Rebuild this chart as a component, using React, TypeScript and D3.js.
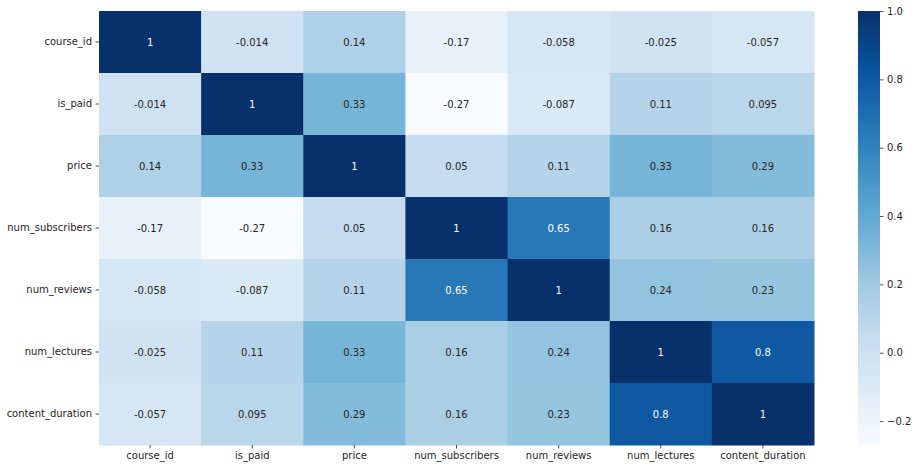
import React, { useEffect, useRef } from 'react';
import * as d3 from 'd3';

const labels = ['course_id', 'is_paid', 'price', 'num_subscribers', 'num_reviews', 'num_lectures', 'content_duration'];

const courseId = [1, -0.014, 0.14, -0.17, -0.058, -0.025, -0.057];
const isPaid = [-0.014, 1, 0.33, -0.27, -0.087, 0.11, 0.095];
const price = [0.14, 0.33, 1, 0.05, 0.11, 0.33, 0.29];
const numSubscribers = [-0.17, -0.27, 0.05, 1, 0.65, 0.16, 0.16];
const numReviews = [-0.058, -0.087, 0.11, 0.65, 1, 0.24, 0.23];
const numLectures = [-0.025, 0.11, 0.33, 0.16, 0.24, 1, 0.8];
const contentDuration = [-0.057, 0.095, 0.29, 0.16, 0.23, 0.8, 1];

const rows = [courseId, isPaid, price, numSubscribers, numReviews, numLectures, contentDuration];

const cbarTicks = [1.0, 0.8, 0.6, 0.4, 0.2, 0.0, -0.2];

// matplotlib "Blues" stops
const blues = ['#f7fbff', '#deebf7', '#c6dbef', '#9ecae1', '#6baed6', '#4292c6', '#2171b5', '#08519c', '#08306b'];

const App = () => {
  const svgRef = useRef(null);

  useEffect(() => {
    document.body.style.margin = '0';
    const width = 918, height = 471;
    const left = 99, top = 11, right = 814, bottom = 445;
    const font = '"DejaVu Sans", sans-serif';

    const svg = d3.select(svgRef.current);
    svg.selectAll('*').remove();
    svg.attr('width', width).attr('height', height);
    svg.append('rect').attr('width', width).attr('height', height).attr('fill', '#fff');

    const vmin = d3.min(rows.flat());
    const vmax = 1;
    const t = d3.scaleLinear().domain([vmin, vmax]).range([0, 1]);
    const ramp = d3.scaleLinear<string>()
      .domain(blues.map((_, i) => i / (blues.length - 1)))
      .range(blues)
      .interpolate(d3.interpolateRgb);
    const color = v => ramp(t(v));

    const x = d3.scaleBand().domain(labels).range([left, right]);
    const y = d3.scaleBand().domain(labels).range([top, bottom]);

    const cells = svg.append('g');
    rows.forEach((row, i) => {
      row.forEach((v, j) => {
        cells.append('rect')
          .attr('x', x(labels[j]))
          .attr('y', y(labels[i]))
          .attr('width', x.bandwidth() + 0.5)
          .attr('height', y.bandwidth() + 0.5)
          .attr('fill', color(v));
        const c = d3.rgb(color(v));
        const lin = ch => { const s = ch / 255; return s <= 0.03928 ? s / 12.92 : Math.pow((s + 0.055) / 1.055, 2.4); };
        const lum = 0.2126 * lin(c.r) + 0.7152 * lin(c.g) + 0.0722 * lin(c.b);
        cells.append('text')
          .attr('x', x(labels[j]) + x.bandwidth() / 2)
          .attr('y', y(labels[i]) + y.bandwidth() / 2)
          .attr('text-anchor', 'middle')
          .attr('dominant-baseline', 'central')
          .attr('font-family', font)
          .attr('font-size', 10)
          .attr('fill', lum > 0.408 ? '#262626' : '#ffffff')
          .text(String(v)); // seaborn annotations use a plain hyphen
      });
    });

    // axes
    const yAxis = svg.append('g').attr('transform', `translate(${left},0)`)
      .call(d3.axisLeft(y).tickSize(3.5).tickPadding(3.5));
    const xAxis = svg.append('g').attr('transform', `translate(0,${bottom})`)
      .call(d3.axisBottom(x).tickSize(3.5).tickPadding(3.5));
    [xAxis, yAxis].forEach(a => {
      a.select('.domain').remove();
      a.selectAll('line').attr('stroke', '#262626').attr('stroke-width', 0.8);
      a.selectAll('text').attr('font-family', font).attr('font-size', 10).attr('fill', '#262626');
    });

    // colorbar
    const cx0 = 858, cx1 = 880;
    const cy = d3.scaleLinear().domain([vmin, vmax]).range([bottom, top]);
    const defs = svg.append('defs');
    const grad = defs.append('linearGradient').attr('id', 'cbar')
      .attr('x1', 0).attr('y1', 1).attr('x2', 0).attr('y2', 0);
    d3.range(0, 1.0001, 0.02).forEach(p => {
      grad.append('stop').attr('offset', p).attr('stop-color', ramp(p));
    });
    svg.append('rect')
      .attr('x', cx0).attr('y', top)
      .attr('width', cx1 - cx0).attr('height', bottom - top)
      .attr('fill', 'url(#cbar)');
    const cAxis = svg.append('g').attr('transform', `translate(${cx1},0)`)
      .call(d3.axisRight(cy).tickValues(cbarTicks).tickFormat(d3.format('.1f')).tickSize(3.5).tickPadding(3.5));
    cAxis.select('.domain').remove();
    cAxis.selectAll('line').attr('stroke', '#262626').attr('stroke-width', 0.8);
    cAxis.selectAll('text').attr('font-family', font).attr('font-size', 10).attr('fill', '#262626');
  }, []);

  return <svg ref={svgRef} style={{ display: 'block' }}></svg>;
};

export default App;
